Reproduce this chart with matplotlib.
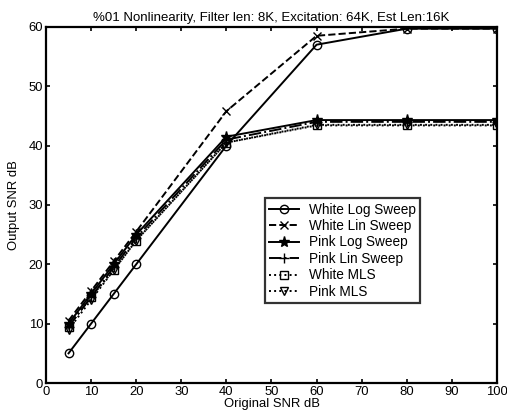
import matplotlib
matplotlib.use("Agg")
import matplotlib.pyplot as plt

plt.rcParams['font.family'] = ['Liberation Sans', 'DejaVu Sans']
plt.rcParams['font.size'] = 9.4

snr_in = [5, 10, 15, 20, 40, 60, 80, 100]

white_log = [5, 10, 15, 20, 40, 57, 59.7, 59.7]
white_lin = [10.5, 15.5, 20.5, 25.5, 45.8, 58.5, 59.7, 59.7]
pink_log = [10, 15, 20, 25, 41.5, 44.3, 44.3, 44.3]
pink_lin = [9.5, 14.5, 19.5, 24.5, 41, 44, 44, 44]
white_mls = [9.5, 14.5, 19, 24, 40.5, 43.5, 43.5, 43.5]
pink_mls = [9, 14, 19, 24, 40.5, 43.4, 43.4, 43.4]

labels = ["White Log Sweep", "White Lin Sweep", "Pink Log Sweep",
          "Pink Lin Sweep", "White MLS", "Pink MLS"]
series = [white_log, white_lin, pink_log, pink_lin, white_mls, pink_mls]
# linestyle, marker, face colour, marker size
styles = [("-", "o", "none", 6), ("--", "x", "k", 6), ("-", "*", "k", 8),
          ("-.", "+", "k", 7), (":", "s", "none", 6), (":", "v", "none", 6)]

fig = plt.figure(figsize=(5.07, 4.20), dpi=100)
ax = fig.add_axes([0.0907, 0.088, 0.8895, 0.848])

for y, lab, (ls, mk, fc, ms) in zip(series, labels, styles):
    ax.plot(snr_in, y, color='k', linestyle=ls, marker=mk, markerfacecolor=fc,
            markeredgecolor='k', markersize=ms, linewidth=1.4, label=lab)

ax.set_xlim(0, 100)
ax.set_ylim(0, 60)
ax.set_xticks(range(0, 101, 10))
ax.set_yticks(range(0, 61, 10))
ax.tick_params(direction='in', length=3, width=1.2, top=True, right=True, pad=2)
for s in ax.spines.values():
    s.set_linewidth(1.6)

ax.set_xlabel("Original SNR dB", labelpad=0)
ax.set_ylabel("Output SNR dB", labelpad=6)
ax.set_title("%01 Nonlinearity, Filter len: 8K, Excitation: 64K, Est Len:16K", fontsize=9.5, pad=4)

leg = ax.legend(loc='lower left', bbox_to_anchor=(0.486, 0.225), frameon=True,
                fancybox=False, edgecolor='k', handlelength=2.2, borderpad=0.3,
                labelspacing=0.18, handletextpad=0.7, borderaxespad=0, fontsize=9.8)
leg.get_frame().set_linewidth(1.6)

fig.savefig("out.png", dpi=100)
